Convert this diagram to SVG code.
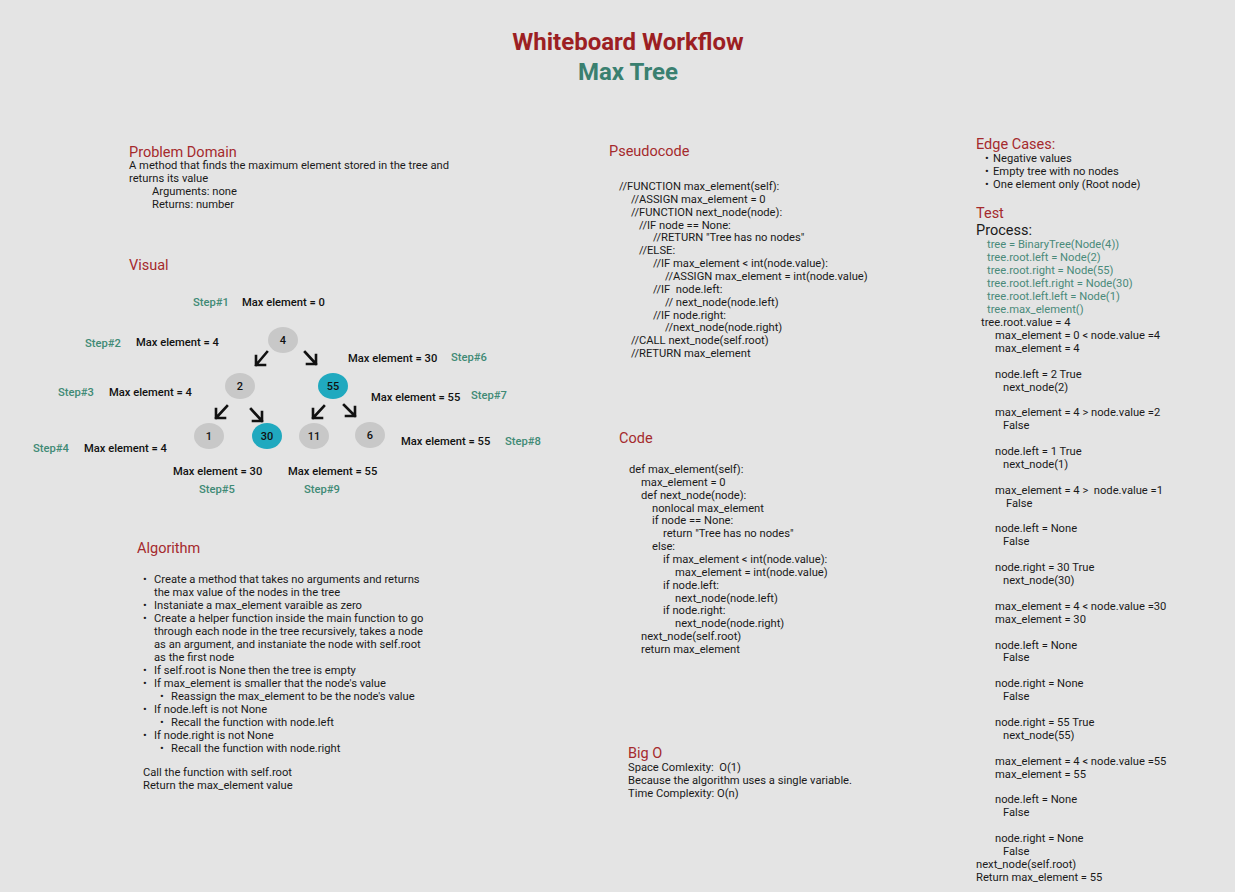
<svg xmlns="http://www.w3.org/2000/svg" width="1235" height="892" viewBox="0 0 1235 892">
<style>
text{font-family:Roboto,"Liberation Sans",sans-serif;fill:#1a1a1a;white-space:pre}
.t1{font-size:24px;font-weight:bold;fill:#9c1f23;text-anchor:middle}
.t2{font-size:24px;font-weight:bold;fill:#3a8070;text-anchor:middle}
.h{font-size:14.5px;fill:#a52a2d}
.b{font-size:11.2px}
.s{font-size:11.2px;font-weight:500;fill:#3f8a75}
.m{font-size:11.2px;font-weight:500;fill:#111}
.tl{font-size:11.2px;fill:#4a8a7a}
.nl{font-size:11px;font-weight:500;text-anchor:middle;fill:#111}
.g{fill:#c8c8c8}
.c{fill:#20a9bf}
.ar{fill:none;stroke:#111;stroke-width:2.6;stroke-linecap:square;stroke-linejoin:miter}
</style>
<rect width="1235" height="892" fill="#e4e4e4"/>
<text class="t1" x="628" y="50">Whiteboard Workflow</text>
<text class="t2" x="628" y="80">Max Tree</text>

<g id="problem-domain">
<text class="h" x="129" y="157">Problem Domain</text>
<text class="b" x="129" y="169">A method that finds the maximum element stored in the tree and</text>
<text class="b" x="129" y="182">returns its value</text>
<text class="b" x="152" y="195">Arguments: none</text>
<text class="b" x="152" y="208">Returns: number</text>
</g>

<g id="visual">
<text class="h" x="129" y="270">Visual</text>
<text class="s" x="193" y="306">Step#1</text><text class="m" x="242" y="306">Max element = 0</text>
<text class="s" x="85" y="347">Step#2</text><text class="m" x="136" y="346">Max element = 4</text>
<text class="m" x="348" y="362">Max element = 30</text><text class="s" x="451" y="361">Step#6</text>
<text class="s" x="58" y="396">Step#3</text><text class="m" x="109" y="396">Max element = 4</text>
<text class="m" x="371" y="401">Max element = 55</text><text class="s" x="471" y="399">Step#7</text>
<text class="s" x="33" y="452">Step#4</text><text class="m" x="84" y="452">Max element = 4</text>
<text class="m" x="401" y="445">Max element = 55</text><text class="s" x="505" y="445">Step#8</text>
<text class="m" x="173" y="475">Max element = 30</text><text class="m" x="288" y="475">Max element = 55</text>
<text class="s" x="199" y="493">Step#5</text><text class="s" x="304" y="493">Step#9</text>
</g>

<g id="node-4"><ellipse class="g" cx="283" cy="340" rx="15" ry="13"/><text class="nl" x="283" y="344">4</text></g>
<g id="node-2"><ellipse class="g" cx="240" cy="386" rx="15" ry="13"/><text class="nl" x="240" y="390">2</text></g>
<g id="node-55"><ellipse class="c" cx="333" cy="386" rx="15" ry="13"/><text class="nl" x="333" y="390">55</text></g>
<g id="node-1"><ellipse class="g" cx="209" cy="436" rx="15" ry="13"/><text class="nl" x="209" y="440">1</text></g>
<g id="node-30"><ellipse class="c" cx="267" cy="436" rx="15" ry="13"/><text class="nl" x="267" y="440">30</text></g>
<g id="node-11"><ellipse class="g" cx="314" cy="436" rx="15" ry="13"/><text class="nl" x="314" y="440">11</text></g>
<g id="node-6"><ellipse class="g" cx="370" cy="435" rx="15" ry="13"/><text class="nl" x="370" y="439">6</text></g>

<g id="connectors">
<path class="ar" d="M267,352 L256,365 M256,356 L256,365 L265,365"/>
<path class="ar" d="M305,352 L316,364 M316,355 L316,364 L307,364"/>
<path class="ar" d="M227,406 L216,418 M216,409 L216,418 L225,418"/>
<path class="ar" d="M251,409 L262,421 M262,412 L262,421 L253,421"/>
<path class="ar" d="M324,406 L313,418 M313,409 L313,418 L322,418"/>
<path class="ar" d="M344,405 L355,416 M355,407 L355,416 L346,416"/>
</g>

<g id="algorithm">
<text class="h" x="137" y="553">Algorithm</text>
<text class="b" x="143" y="583">•</text><text class="b" x="154" y="583">Create a method that takes no arguments and returns</text>
<text class="b" x="154" y="596">the max value of the nodes in the tree</text>
<text class="b" x="143" y="609">•</text><text class="b" x="154" y="609">Instaniate a max_element varaible as zero</text>
<text class="b" x="143" y="622">•</text><text class="b" x="154" y="622">Create a helper function inside the main function to go</text>
<text class="b" x="154" y="635">through each node in the tree recursively, takes a node</text>
<text class="b" x="154" y="648">as an argument, and instaniate the node with self.root</text>
<text class="b" x="154" y="661">as the first node</text>
<text class="b" x="143" y="674">•</text><text class="b" x="154" y="674">If self.root is None then the tree is empty</text>
<text class="b" x="143" y="687">•</text><text class="b" x="154" y="687">If max_element is smaller that the node's value</text>
<text class="b" x="160" y="700">•</text><text class="b" x="171" y="700">Reassign the max_element to be the node's value</text>
<text class="b" x="143" y="713">•</text><text class="b" x="154" y="713">If node.left is not None</text>
<text class="b" x="160" y="726">•</text><text class="b" x="171" y="726">Recall the function with node.left</text>
<text class="b" x="143" y="739">•</text><text class="b" x="154" y="739">If node.right is not None</text>
<text class="b" x="160" y="752">•</text><text class="b" x="171" y="752">Recall the function with node.right</text>
<text class="b" x="143" y="776">Call the function with self.root</text>
<text class="b" x="143" y="789">Return the max_element value</text>
</g>

<g id="pseudocode">
<text class="h" x="609" y="156">Pseudocode</text>
<text class="b" x="619" y="190">//FUNCTION max_element(self):</text>
<text class="b" x="631" y="202.9">//ASSIGN max_element = 0</text>
<text class="b" x="631" y="215.7">//FUNCTION next_node(node):</text>
<text class="b" x="639" y="228.6">//IF node == None:</text>
<text class="b" x="653" y="241.4">//RETURN "Tree has no nodes"</text>
<text class="b" x="639" y="254.3">//ELSE:</text>
<text class="b" x="653" y="267.1">//IF max_element &lt; int(node.value):</text>
<text class="b" x="665" y="280">//ASSIGN max_element = int(node.value)</text>
<text class="b" x="653" y="292.9">//IF  node.left:</text>
<text class="b" x="665" y="305.7">// next_node(node.left)</text>
<text class="b" x="653" y="318.6">//IF node.right:</text>
<text class="b" x="665" y="331.4">//next_node(node.right)</text>
<text class="b" x="631" y="344.3">//CALL next_node(self.root)</text>
<text class="b" x="631" y="357.1">//RETURN max_element</text>
</g>

<g id="code">
<text class="h" x="619" y="443">Code</text>
<text class="b" x="629" y="473">def max_element(self):</text>
<text class="b" x="641" y="485.9">max_element = 0</text>
<text class="b" x="641" y="498.7">def next_node(node):</text>
<text class="b" x="652" y="511.6">nonlocal max_element</text>
<text class="b" x="652" y="524.4">if node == None:</text>
<text class="b" x="663" y="537.3">return "Tree has no nodes"</text>
<text class="b" x="652" y="550.1">else:</text>
<text class="b" x="663" y="563">if max_element &lt; int(node.value):</text>
<text class="b" x="675" y="575.9">max_element = int(node.value)</text>
<text class="b" x="663" y="588.7">if node.left:</text>
<text class="b" x="675" y="601.6">next_node(node.left)</text>
<text class="b" x="663" y="614.4">if node.right:</text>
<text class="b" x="675" y="627.3">next_node(node.right)</text>
<text class="b" x="641" y="640.1">next_node(self.root)</text>
<text class="b" x="641" y="653">return max_element</text>
</g>

<g id="big-o">
<text class="h" x="628" y="758">Big O</text>
<text class="b" x="628" y="771">Space Comlexity:  O(1)</text>
<text class="b" x="628" y="784">Because the algorithm uses a single variable.</text>
<text class="b" x="628" y="797">Time Complexity: O(n)</text>
</g>

<g id="edge-cases">
<text class="h" x="976" y="149">Edge Cases:</text>
<text class="b" x="985" y="162">•</text><text class="b" x="993" y="162">Negative values</text>
<text class="b" x="985" y="175">•</text><text class="b" x="993" y="175">Empty tree with no nodes</text>
<text class="b" x="985" y="188">•</text><text class="b" x="993" y="188">One element only (Root node)</text>
</g>

<g id="test">
<text class="h" x="976" y="218">Test</text>
<text x="976" y="235" style="font-size:14.5px">Process:</text>
<text class="tl" x="987" y="248">tree = BinaryTree(Node(4))</text>
<text class="tl" x="987" y="261">tree.root.left = Node(2)</text>
<text class="tl" x="987" y="274">tree.root.right = Node(55)</text>
<text class="tl" x="987" y="287">tree.root.left.right = Node(30)</text>
<text class="tl" x="987" y="300">tree.root.left.left = Node(1)</text>
<text class="tl" x="987" y="313">tree.max_element()</text>
<text class="b" x="981" y="326">tree.root.value = 4</text>
<text class="b" x="995" y="338.9">max_element = 0 &lt; node.value =4</text>
<text class="b" x="995" y="351.8">max_element = 4</text>
<text class="b" x="995" y="377.6">node.left = 2 True</text>
<text class="b" x="1003" y="390.5">next_node(2)</text>
<text class="b" x="995" y="416.3">max_element = 4 &gt; node.value =2</text>
<text class="b" x="1003" y="429.2">False</text>
<text class="b" x="995" y="455">node.left = 1 True</text>
<text class="b" x="1003" y="467.9">next_node(1)</text>
<text class="b" x="995" y="493.7">max_element = 4 &gt;  node.value =1</text>
<text class="b" x="1006" y="506.6">False</text>
<text class="b" x="995" y="532.4">node.left = None</text>
<text class="b" x="1003" y="545.3">False</text>
<text class="b" x="995" y="571.1">node.right = 30 True</text>
<text class="b" x="1003" y="584">next_node(30)</text>
<text class="b" x="995" y="609.8">max_element = 4 &lt; node.value =30</text>
<text class="b" x="995" y="622.7">max_element = 30</text>
<text class="b" x="995" y="648.5">node.left = None</text>
<text class="b" x="1003" y="661.4">False</text>
<text class="b" x="995" y="687.2">node.right = None</text>
<text class="b" x="1003" y="700.1">False</text>
<text class="b" x="995" y="725.9">node.right = 55 True</text>
<text class="b" x="1003" y="738.8">next_node(55)</text>
<text class="b" x="995" y="764.6">max_element = 4 &lt; node.value =55</text>
<text class="b" x="995" y="777.5">max_element = 55</text>
<text class="b" x="995" y="803.3">node.left = None</text>
<text class="b" x="1003" y="816.2">False</text>
<text class="b" x="995" y="842">node.right = None</text>
<text class="b" x="1003" y="854.9">False</text>
<text class="b" x="976" y="867.8">next_node(self.root)</text>
<text class="b" x="976" y="880.7">Return max_element = 55</text>
</g>
</svg>
